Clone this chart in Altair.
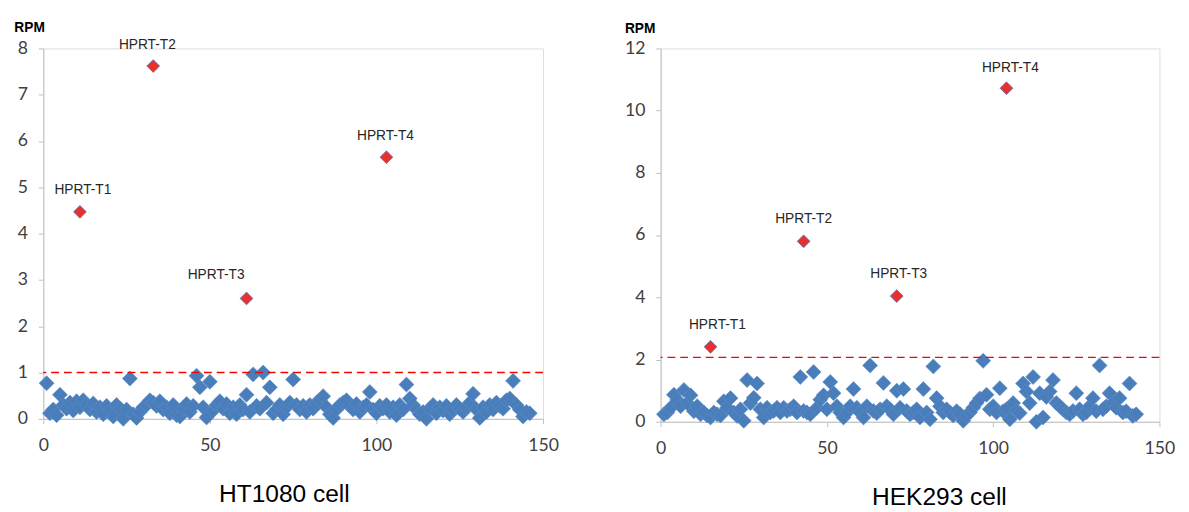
import altair as alt
import pandas as pd

# ---------------- data ----------------
# HT1080 panel: background (non-target) sites
ht_x = [1, 2, 3, 4, 5, 6, 7, 8, 9, 10, 11, 12, 13, 14, 15, 16, 17, 18, 19, 20,
        21, 22, 23, 24, 25, 26, 27, 28, 29, 30, 31, 32, 33, 34, 35, 36, 37, 38, 39, 40,
        41, 42, 43, 44, 45, 46, 47, 48, 49, 50, 51, 52, 53, 54, 55, 56, 57, 58, 59, 60,
        61, 62, 63, 64, 65, 66, 67, 68, 69, 70, 71, 72, 73, 74, 75, 76, 77, 78, 79, 80,
        81, 82, 83, 84, 85, 86, 87, 88, 89, 90, 91, 92, 93, 94, 95, 96, 97, 98, 99, 100,
        101, 102, 103, 104, 105, 106, 107, 108, 109, 110, 111, 112, 113, 114, 115, 116, 117, 118, 119, 120,
        121, 122, 123, 124, 125, 126, 127, 128, 129, 130, 131, 132, 133, 134, 135, 136, 137, 138, 139, 140,
        141, 142, 143, 144, 145, 146]
ht_y = [0.77, 0.12, 0.20, 0.08, 0.52, 0.30, 0.22, 0.35, 0.18, 0.38, 0.25, 0.40, 0.30, 0.20, 0.33, 0.15, 0.25, 0.10, 0.28, 0.18,
        0.05, 0.30, 0.22, 0.00, 0.20, 0.87, 0.10, 0.02, 0.15, 0.25, 0.30, 0.40, 0.35, 0.28, 0.38, 0.20, 0.25, 0.12, 0.30, 0.08,
        0.05, 0.22, 0.32, 0.15, 0.28, 0.93, 0.68, 0.25, 0.03, 0.80, 0.18, 0.30, 0.38, 0.22, 0.32, 0.12, 0.25, 0.10, 0.30, 0.20,
        0.52, 0.15, 0.96, 0.28, 0.22, 1.00, 0.35, 0.68, 0.12, 0.20, 0.30, 0.10, 0.25, 0.35, 0.85, 0.30, 0.20, 0.28, 0.15, 0.30,
        0.22, 0.35, 0.40, 0.49, 0.25, 0.10, 0.02, 0.20, 0.30, 0.35, 0.40, 0.28, 0.20, 0.32, 0.15, 0.25, 0.30, 0.58, 0.20, 0.12,
        0.28, 0.22, 0.30, 0.15, 0.25, 0.08, 0.30, 0.20, 0.74, 0.44, 0.30, 0.20, 0.10, 0.15, 0.00, 0.22, 0.30, 0.12, 0.25, 0.18,
        0.28, 0.10, 0.20, 0.30, 0.22, 0.15, 0.25, 0.35, 0.54, 0.20, 0.02, 0.25, 0.15, 0.30, 0.20, 0.35, 0.28, 0.22, 0.40, 0.44,
        0.82, 0.30, 0.20, 0.05, 0.15, 0.12]

# HT1080 panel: target sites
ht_hit_label = ["HPRT-T1", "HPRT-T2", "HPRT-T3", "HPRT-T4"]
ht_hit_x = [11, 33, 61, 103]
ht_hit_y = [4.47, 7.62, 2.60, 5.65]
ht_threshold = 1.0

# HEK293 panel: background sites
hek_x = [1, 2, 3, 4, 5, 6, 7, 8, 9, 10, 11, 12, 13, 14, 15, 16, 17, 18, 19, 20,
         21, 22, 23, 24, 25, 26, 27, 28, 29, 30, 31, 32, 33, 34, 35, 36, 37, 38, 39, 40,
         41, 42, 43, 44, 45, 46, 47, 48, 49, 50, 51, 52, 53, 54, 55, 56, 57, 58, 59, 60,
         61, 62, 63, 64, 65, 66, 67, 68, 69, 70, 71, 72, 73, 74, 75, 76, 77, 78, 79, 80,
         81, 82, 83, 84, 85, 86, 87, 88, 89, 90, 91, 92, 93, 94, 95, 96, 97, 98, 99, 100,
         101, 102, 103, 104, 105, 106, 107, 108, 109, 110, 111, 112, 113, 114, 115, 116, 117, 118, 119, 120,
         121, 122, 123, 124, 125, 126, 127, 128, 129, 130, 131, 132, 133, 134, 135, 136, 137, 138, 139, 140,
         141, 142, 143]
hek_y = [0.24, 0.30, 0.45, 0.87, 0.70, 0.50, 1.02, 0.60, 0.85, 0.34, 0.50, 0.24, 0.30, 0.20, 0.14, 0.30, 0.24, 0.20, 0.66, 0.45,
         0.76, 0.30, 0.19, 0.40, 0.03, 1.34, 0.60, 0.77, 1.23, 0.40, 0.14, 0.45, 0.30, 0.35, 0.45, 0.30, 0.45, 0.35, 0.40, 0.50,
         0.30, 1.44, 0.35, 0.30, 0.24, 1.60, 0.45, 0.71, 0.85, 0.40, 1.28, 0.92, 0.50, 0.30, 0.14, 0.30, 0.50, 1.05, 0.45, 0.30,
         0.14, 0.50, 1.81, 0.35, 0.28, 0.40, 1.25, 0.50, 0.40, 0.24, 1.00, 0.45, 1.05, 0.35, 0.24, 0.30, 0.40, 0.14, 1.05, 0.30,
         0.08, 1.78, 0.76, 0.50, 0.30, 0.40, 0.30, 0.20, 0.34, 0.25, 0.03, 0.20, 0.30, 0.45, 0.60, 0.75, 1.96, 0.87, 0.40, 0.50,
         0.30, 1.08, 0.34, 0.40, 0.08, 0.60, 0.35, 0.28, 1.23, 0.97, 0.60, 1.44, 0.00, 0.92, 0.14, 0.80, 0.97, 1.34, 0.60, 0.50,
         0.40, 0.30, 0.24, 0.35, 0.92, 0.40, 0.24, 0.30, 0.50, 0.76, 0.34, 1.81, 0.40, 0.50, 0.92, 0.60, 0.45, 0.76, 0.30, 0.34,
         1.23, 0.19, 0.24]

hek_hit_label = ["HPRT-T1", "HPRT-T2", "HPRT-T3", "HPRT-T4"]
hek_hit_x = [15, 43, 71, 104]
hek_hit_y = [2.41, 5.80, 4.04, 10.72]
hek_threshold = 2.07

x_ticks = [0, 50, 100, 150]
ht_y_ticks = [0, 1, 2, 3, 4, 5, 6, 7, 8]
hek_y_ticks = [0, 2, 4, 6, 8, 10, 12]

# ---------------- styling ----------------
BLUE = "#4A7EBB"
RED = "#E8302C"
AXIS_GREY = "#BFBFBF"
TICK_FONT = "Lato"
TXT_FONT = "Liberation Sans"

# pixel offsets of each target label relative to its marker (label placement style)
ht_label_offsets = [(3, -22), (-6, -21), (-31, -24), (-1, -22)]
hek_label_offsets = [(7, -22), (0, -23), (2, -22), (4, -21)]


def panel(bx, by, hl, hx, hy, offsets, thr, ymax, yticks, title, title_dx, rpm_x, rpm_y, h, w):
    bg = pd.DataFrame({"x": bx, "y": by})
    hits = pd.DataFrame({"x": hx, "y": hy, "label": hl})

    xscale = alt.Scale(domain=[0, 150], nice=False, zero=False)
    yscale = alt.Scale(domain=[0, ymax], nice=False)

    xaxis = alt.Axis(values=x_ticks, grid=False, domainColor=AXIS_GREY, tickColor=AXIS_GREY,
                     tickSize=5, labelPadding=13, labelFont=TICK_FONT, labelFontSize=18,
                     labelColor="#404040", labelFlush=False, title=None)
    yaxis = alt.Axis(values=yticks, grid=False, domainColor=AXIS_GREY, tickColor=AXIS_GREY,
                     tickSize=5, labelPadding=11, labelFont=TICK_FONT, labelFontSize=18,
                     labelColor="#404040", title="RPM", titleAngle=0, titleFont=TXT_FONT,
                     titleFontSize=14, titleFontWeight="bold", titleColor="#000000",
                     titleX=rpm_x, titleY=rpm_y, titleAlign="left", titleBaseline="alphabetic")

    pts = alt.Chart(bg).mark_point(shape="diamond", filled=True, size=235, fill=BLUE,
                                   stroke="#5A8CC9", strokeWidth=0.6, opacity=1).encode(
        x=alt.X("x:Q", scale=xscale, axis=xaxis),
        y=alt.Y("y:Q", scale=yscale, axis=yaxis),
    )
    rule = alt.Chart(pd.DataFrame({"t": [thr]})).mark_rule(
        color="#FF0000", strokeDash=[8, 5], strokeWidth=1.5).encode(
        y=alt.Y("t:Q", scale=yscale))
    hit_pts = alt.Chart(hits).mark_point(shape="diamond", filled=True, size=170, fill=RED,
                                         stroke="#5B6FB5", strokeWidth=0.8, opacity=1).encode(
        x=alt.X("x:Q", scale=xscale), y=alt.Y("y:Q", scale=yscale))

    layers = [pts, rule, hit_pts]
    for i, (odx, ody) in enumerate(offsets):
        t = alt.Chart(hits.iloc[[i]]).mark_text(
            font=TXT_FONT, fontSize=14, color="#262626", dx=odx, dy=ody,
            baseline="middle", align="center").encode(
            x=alt.X("x:Q", scale=xscale), y=alt.Y("y:Q", scale=yscale), text="label:N")
        layers.append(t)

    return alt.layer(*layers).properties(
        width=w, height=h,
        title=alt.TitleParams(title, orient="bottom", font=TXT_FONT, fontSize=25,
                              fontWeight="normal", color="#000000", dx=title_dx, offset=29),
    )


left = panel(ht_x, ht_y, ht_hit_label, ht_hit_x, ht_hit_y, ht_label_offsets, ht_threshold, 8,
             ht_y_ticks, "HT1080 cell", -9, -30, -17, 378, 510)
right = panel(hek_x, hek_y, hek_hit_label, hek_hit_x, hek_hit_y, hek_label_offsets, hek_threshold, 12,
              hek_y_ticks, "HEK293 cell", 30, -37, -16, 381, 509)

chart = alt.hconcat(left, right, spacing=65).configure_view(strokeWidth=0).configure(
    background="#FFFFFF", padding={"left": 5, "top": 7, "right": 5, "bottom": 5})

chart.save("out.html", embed_options={"renderer": "svg", "actions": False})
